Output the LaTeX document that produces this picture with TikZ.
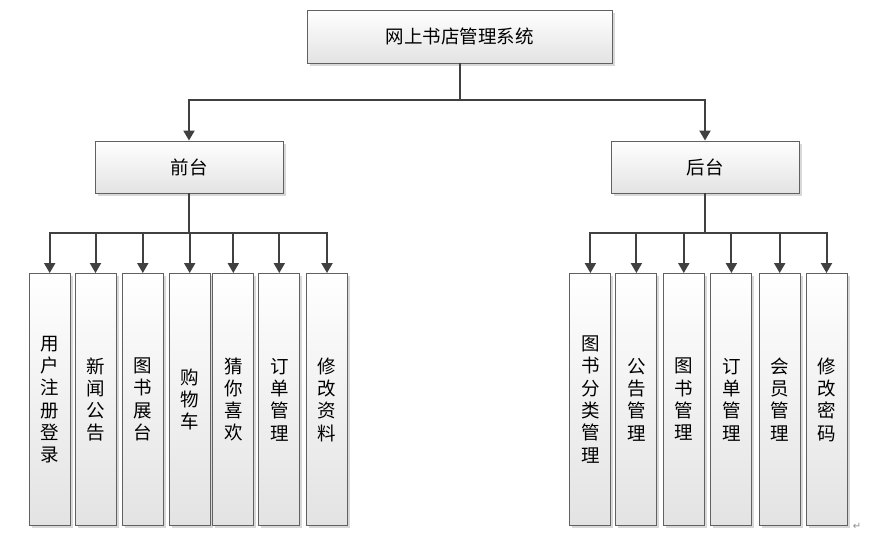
\documentclass[tikz,border=0pt]{standalone}
\usepackage{fontspec}
\newfontfamily\cjk{Noto Sans CJK SC}
\newfontfamily\symfont{DejaVu Sans}
\usepackage{tikz}
\usetikzlibrary{positioning,arrows.meta,shadows}
\tikzset{
  sysbox/.style={draw=black!62, line width=0.9pt, top color=white, bottom color=black!11,
    align=center, inner sep=0pt, font=\cjk\fontsize{18.5}{22.3}\selectfont,
    drop shadow={shadow xshift=2.5pt, shadow yshift=-2.5pt, fill=black!30, opacity=.5}},
  modbox/.style={sysbox, minimum width=188pt, minimum height=52pt},
  leafbox/.style={sysbox, minimum width=41pt, minimum height=252pt},
  linkline/.style={draw=black!75, line width=2pt},
  linkarrow/.style={linkline, -{Triangle[length=10pt,width=11pt]}},
}

\begin{document}
\begin{tikzpicture}[x=1pt, y=-1pt]
  \useasboundingbox (0,0) rectangle (881,539);
  % 系统
  \node[sysbox, minimum width=305pt, minimum height=53pt] (sys) at (459.5,36.5) {网上书店管理系统};
  % 前台 / 后台
  \node[modbox] (qt) at (189,167) {前台};
  \node[modbox] (ht) at (705,167) {后台};
  % 前台的功能
  \node[leafbox] (q1) at (49.7,399.5) {用\\户\\注\\册\\登\\录};
  \node[leafbox] (q2) at (95.5,399.5) {新\\闻\\公\\告};
  \node[leafbox] (q3) at (142.8,399.5) {图\\书\\展\\台};
  \node[leafbox] (q4) at (189.7,399.5) {购\\物\\车};
  \node[leafbox] (q5) at (233.3,399.5) {猜\\你\\喜\\欢};
  \node[leafbox] (q6) at (279.3,399.5) {订\\单\\管\\理};
  \node[leafbox] (q7) at (327,399.5) {修\\改\\资\\料};
  % 后台的功能
  \node[leafbox] (h1) at (590.4,399.5) {图\\书\\分\\类\\管\\理};
  \node[leafbox] (h2) at (636.4,399.5) {公\\告\\管\\理};
  \node[leafbox] (h3) at (683.8,399.5) {图\\书\\管\\理};
  \node[leafbox] (h4) at (731.4,399.5) {订\\单\\管\\理};
  \node[leafbox] (h5) at (779.7,399.5) {会\\员\\管\\理};
  \node[leafbox] (h6) at (826.5,399.5) {修\\改\\密\\码};
  \node[font=\symfont\fontsize{10}{10}\selectfont, text=black!45, inner sep=0pt] (pmark) at (857,526) {↵};
  % 连线
  \draw[linkline] (sys.south) -- ++(0,37) coordinate (b0);
  \draw[linkarrow] (b0) -| (qt.north);
  \draw[linkarrow] (b0) -| (ht.north);
  \draw[linkline] (qt.south) -- ++(0,40) coordinate (bq);
  \foreach \i in {1,...,7} \draw[linkarrow] (bq) -| (q\i.north);
  \draw[linkline] (ht.south) -- ++(0,40) coordinate (bh);
  \foreach \i in {1,...,6} \draw[linkarrow] (bh) -| (h\i.north);
\end{tikzpicture}
\end{document}
